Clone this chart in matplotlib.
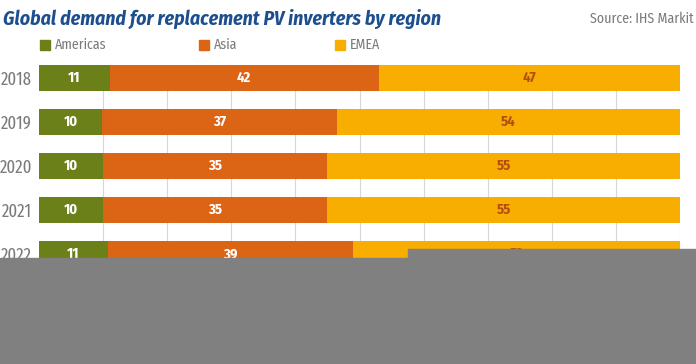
import matplotlib.pyplot as plt
from matplotlib.patches import Rectangle

years = ['2018', '2019', '2020', '2021', '2022']
americas = [11, 10, 10, 10, 11]
asia = [42, 37, 35, 35, 39]
emea = [47, 54, 55, 55, 52]

plt.rcParams['font.family'] = ['Fira Sans Condensed', 'DejaVu Sans']

green = '#6b8019'
orange = '#dc6415'
yellow = '#f8ae00'

fig = plt.figure(figsize=(6.96, 3.64), dpi=100)
ax = fig.add_axes([39 / 696, 0, 641 / 696, 299 / 364])

# 100% stacked bars
tot = [a + b + c for a, b, c in zip(americas, asia, emea)]
am = [a / t * 100 for a, t in zip(americas, tot)]
asi = [a / t * 100 for a, t in zip(asia, tot)]
em = [a / t * 100 for a, t in zip(emea, tot)]
left2 = [a + b for a, b in zip(am, asi)]

y = list(range(len(years)))
h = 0.59
ax.barh(y, am, height=h, color=green, zorder=2)
ax.barh(y, asi, left=am, height=h, color=orange, zorder=2)
ax.barh(y, em, left=left2, height=h, color=yellow, zorder=2)

for i in y:
    ax.text(am[i] / 2, i, str(americas[i]), ha='center', va='center',
            color='white', fontsize=10.5, fontweight='bold', zorder=3)
    ax.text(am[i] + asi[i] / 2, i, str(asia[i]), ha='center', va='center',
            color='white', fontsize=10.5, fontweight='bold', zorder=3)
    ax.text(left2[i] + em[i] / 2, i, str(emea[i]), ha='center', va='center',
            color='#b4500f', fontsize=10.5, fontweight='bold', zorder=3)

ax.set_xlim(0, 100)
ax.set_ylim(6.5, -0.3)
ax.set_xticks(range(10, 101, 10))
ax.xaxis.grid(True, color='#d6d6d6', linewidth=0.8, zorder=0)
ax.set_axisbelow(True)
ax.tick_params(axis='x', length=0, labelbottom=False)
ax.set_yticks(y, years)
ax.tick_params(axis='y', length=0, pad=5, labelcolor='#7a7a7a')
for t in ax.get_yticklabels():
    t.set_family(['Fira Sans Extra Condensed', 'Fira Sans Condensed', 'DejaVu Sans'])
    t.set_fontsize(13)
for s in ax.spines.values():
    s.set_visible(False)

fig.text(3 / 696, 1 - 19 / 364, 'Global demand for replacement PV inverters by region',
         fontsize=14.2, fontweight='bold', fontstyle='italic', color='#1d4f8f',
         va='center', ha='left')
fig.text(694 / 696, 1 - 19 / 364, 'Source: IHS Markit', fontsize=10,
         color='#7a7a7a', va='center', ha='right')

legend_items = [('Americas', green, 40), ('Asia', orange, 199), ('EMEA', yellow, 335)]
for lab, col, x0 in legend_items:
    fig.add_artist(Rectangle((x0 / 696, 1 - 50 / 364), 10 / 696, 10 / 364,
                             transform=fig.transFigure, color=col))
    fig.text((x0 + 15) / 696, 1 - 45 / 364, lab, fontsize=10, color='#7a7a7a',
             va='center', ha='left')

# grey overlay present in the reference image
fig.add_artist(Rectangle((0, 0), 1, (364 - 258) / 364, transform=fig.transFigure,
                         color='#808080', zorder=10))
fig.add_artist(Rectangle((408 / 696, 0), 1 - 408 / 696, (364 - 249) / 364,
                         transform=fig.transFigure, color='#808080', zorder=10))

fig.savefig('out.png', dpi=100)
